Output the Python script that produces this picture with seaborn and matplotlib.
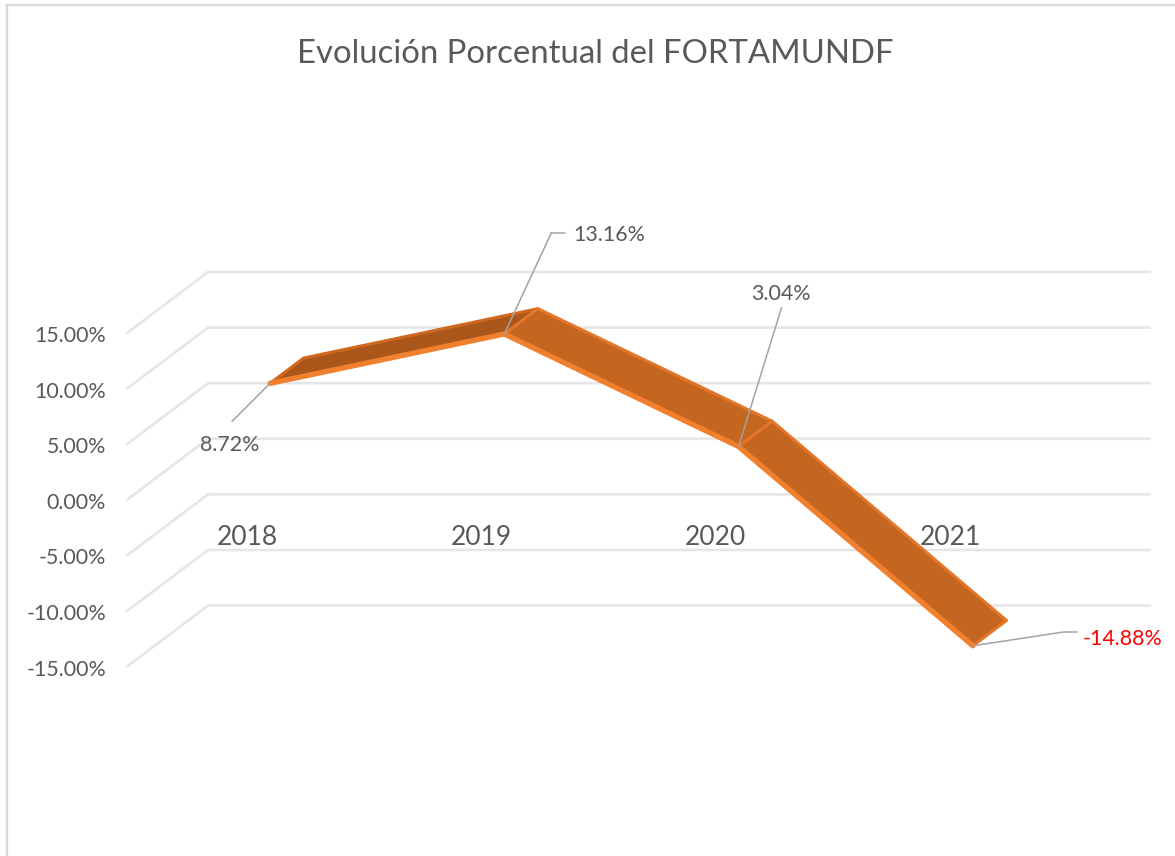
import matplotlib
matplotlib.use("Agg")
import matplotlib.pyplot as plt
import numpy as np
import pandas as pd
import seaborn as sns

years = ["2018", "2019", "2020", "2021"]
values = [8.72, 13.16, 3.04, -14.88]
value_labels = ["8.72%", "13.16%", "3.04%", "-14.88%"]
wall_ticks = [15, 10, 5, 0, -5, -10, -15]
wall_labels = ["15.00%", "10.00%", "5.00%", "0.00%", "-5.00%", "-10.00%", "-15.00%"]
title = "Evolución Porcentual del FORTAMUNDF"

# pixel size of one category / one percent point on the ribbon plane
PX_X = 234.3
PX_Y = 11.12
DEPTH_X = 81 / PX_X
DEPTH_Y = 61 / PX_Y
RIBBON_FRONT = 0.318
RIBBON_BACK = 0.733

GRID = "#e6e6e6"
LEADER = "#a3a3a3"
TEXT = "#595959"
EDGE = "#f07f2e"


def project(i, v, d):
    # depth d: 0 = front of the wall, 1 = back of the wall
    i = np.asarray(i, dtype=float)
    v = np.asarray(v, dtype=float)
    return i + (d - RIBBON_FRONT) * DEPTH_X, v + (d - RIBBON_FRONT) * DEPTH_Y


sns.set_theme(style="white")
plt.rcParams["font.family"] = ["Lato", "DejaVu Sans"]

fig = plt.figure(figsize=(11.75, 8.56), dpi=100)
ax = fig.add_axes([0, 0, 1, 1])
ax.set_xlim(-270 / PX_X, (1175 - 270) / PX_X)
ax.set_ylim(13.16 - (856 - 334) / PX_Y, 13.16 + 334 / PX_Y)
ax.axis("off")

# chart frame
fig.add_artist(plt.Line2D([6.5 / 1175, 6.5 / 1175], [0, 1 - 5 / 856], color="#d9d9d9", lw=1.6))
fig.add_artist(plt.Line2D([6 / 1175, 1], [1 - 5 / 856, 1 - 5 / 856], color="#d9d9d9", lw=1.6))

# walls
for v, lab in zip(wall_ticks, wall_labels):
    x0, y0 = project(-0.5, v, 0)
    x1, y1 = project(-0.5, v, 1)
    x2, y2 = project(3.52, v, 1)
    ax.plot([x0, x1, x2], [y0, y1, y2], color=GRID, lw=1.9, zorder=1, solid_joinstyle="miter")
    ax.annotate(lab, (x0, y0), xytext=(-21, -3), textcoords="offset pixels",
                ha="right", va="center", fontsize=15.4, color=TEXT)

# category labels
for i, yr in enumerate(years):
    x, y = project(i, 0, 0)
    ax.annotate(yr, (x, y), xytext=(3, -38), textcoords="offset pixels",
                ha="center", va="center", fontsize=19, color=TEXT, zorder=2)

idx = np.arange(len(years))
fx, fy = project(idx, values, RIBBON_FRONT)
bx, by = project(idx, values, RIBBON_BACK)

# ribbon faces, drawn left to right so later ones sit on top
face_colors = ["#ab571b", "#c4661f", "#c4661f"]
back_edges = ["#d0681f", "#e3762a", "#e3762a"]
for k, col in enumerate(face_colors):
    ax.fill([fx[k], fx[k + 1], bx[k + 1], bx[k]], [fy[k], fy[k + 1], by[k + 1], by[k]],
            facecolor=col, edgecolor=back_edges[k], lw=2.2, joinstyle="round", zorder=3 + k)

front = pd.DataFrame({"x": fx, "y": fy})
sns.lineplot(data=front, x="x", y="y", ax=ax, color=EDGE, lw=3.8, sort=False,
             errorbar=None, zorder=6, solid_joinstyle="round")
ax.set_xlabel("")
ax.set_ylabel("")

# leader lines: offsets in pixels from the point of the ribbon
leaders = [[(-38, -38)], [(47, 101), (61, 101)], [(43, 139)], [(92, 14), (104, 14)]]
label_offsets = [(-40, -62), (105, 99), (42, 153), (150, 7)]
label_colors = [TEXT, TEXT, TEXT, "#ff0000"]
for k, lab in enumerate(value_labels):
    prev = (0, 0)
    for off in leaders[k]:
        px = [fx[k] + prev[0] / PX_X, fx[k] + off[0] / PX_X]
        py = [fy[k] + prev[1] / PX_Y, fy[k] + off[1] / PX_Y]
        ax.plot(px, py, color=LEADER, lw=1.1, zorder=7)
        prev = off
    ax.annotate(lab, (fx[k], fy[k]), xytext=label_offsets[k], textcoords="offset pixels",
                ha="center", va="center", fontsize=15.4, color=label_colors[k], zorder=8)

fig.text(595 / 1175, 1 - 54 / 856, title, ha="center", va="center", fontsize=23.7, color=TEXT)

fig.savefig("out.png", dpi=100)
